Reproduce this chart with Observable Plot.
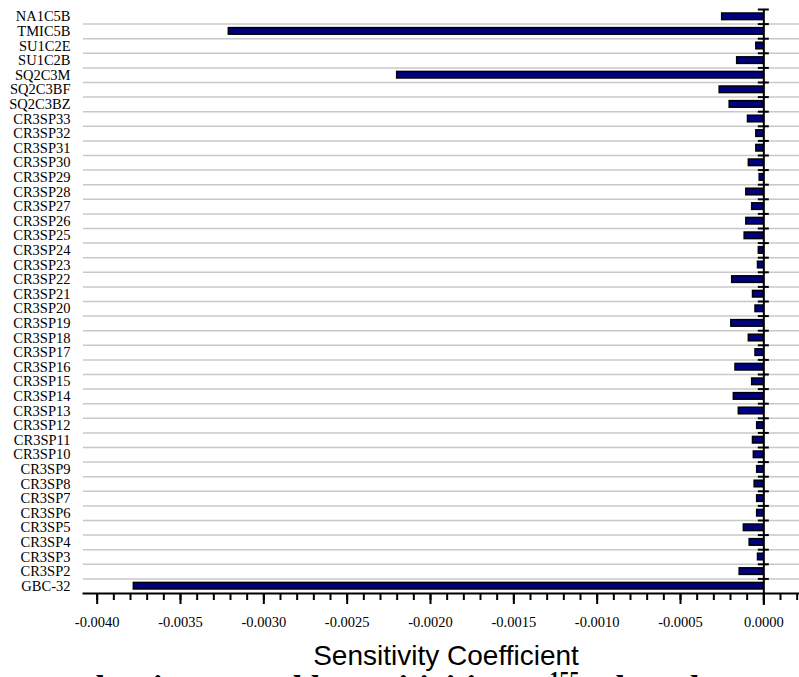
<!DOCTYPE html>
<html>
<head>
<meta charset="utf-8">
<script src="https://cdn.jsdelivr.net/npm/d3@7"></script>
<script src="https://cdn.jsdelivr.net/npm/@observablehq/plot@0.6"></script>
<style>
  html, body { margin: 0; padding: 0; background: white; overflow: hidden; width: 799px; height: 677px; }
  #wrap { position: relative; width: 799px; height: 677px; overflow: hidden; }
  #chart { position: absolute; left: 0; top: 0; }
  #xtitle { position: absolute; top: 642px; left: 446px; transform: translateX(-50%);
            font-family: "Liberation Sans", Arial, sans-serif; font-size: 28px; line-height: 28px; white-space: nowrap; color: black; }
  #caption { position: absolute; top: 662px; left: 96px; font-family: "Liberation Serif", "Times New Roman", serif;
             font-weight: bold; font-size: 34px; line-height: 34px; white-space: nowrap; color: black; }
  #caption sup { font-size: 20px; vertical-align: 13px; }
</style>
</head>
<body>
<div id="wrap">
  <div id="chart"></div>
  <div id="xtitle">Sensitivity Coefficient</div>
  <div id="caption">ber integrated k sensitivities to <sup>155</sup>Gd total</div>
</div>
<script>
const categories = [
  "NA1C5B","TMIC5B","SU1C2E","SU1C2B","SQ2C3M","SQ2C3BF","SQ2C3BZ",
  "CR3SP33","CR3SP32","CR3SP31","CR3SP30","CR3SP29","CR3SP28","CR3SP27","CR3SP26",
  "CR3SP25","CR3SP24","CR3SP23","CR3SP22","CR3SP21","CR3SP20","CR3SP19","CR3SP18",
  "CR3SP17","CR3SP16","CR3SP15","CR3SP14","CR3SP13","CR3SP12","CR3SP11","CR3SP10",
  "CR3SP9","CR3SP8","CR3SP7","CR3SP6","CR3SP5","CR3SP4","CR3SP3","CR3SP2","GBC-32"
];
const values = [
  -0.00025, -0.00321, -0.000045, -0.00016, -0.0022, -0.000265, -0.000205,
  -0.000095, -0.000045, -0.000045, -0.00009, -0.000025, -0.000105, -0.00007, -0.000105,
  -0.000115, -0.00003, -0.000035, -0.00019, -0.000065, -0.00005, -0.000195, -0.00009,
  -0.00005, -0.00017, -0.00007, -0.00018, -0.00015, -0.00004, -0.000065, -0.00006,
  -0.00004, -0.000055, -0.00004, -0.00004, -0.00012, -0.000085, -0.000035, -0.000145, -0.00378
];
const majorTicks = [-0.004, -0.0035, -0.003, -0.0025, -0.002, -0.0015, -0.001, -0.0005, 0];
const minorTicks = d3.range(-40, 3).map(i => i / 10000);

const data = categories.map((name, i) => ({name, value: values[i]}));

const W = 799, H = 635, mT = 9, mB = 42, mL = 83, mR = 0;
const step = (H - mT - mB) / categories.length;

const chart = Plot.plot({
  width: W, height: H,
  marginLeft: mL, marginRight: mR, marginTop: mT, marginBottom: mB,
  x: {domain: [-0.004082, 0.000214], label: null},
  y: {domain: categories, paddingInner: 0.55, paddingOuter: 0.275, round: false, label: null},
  style: {fontFamily: "'Liberation Serif', 'Times New Roman', serif", fontSize: "14px", color: "black", background: "white", overflow: "visible"},
  marks: [
    Plot.ruleY(categories.slice(1), {y: d => d, dy: -step / 2, stroke: "#c8c8c8", strokeWidth: 1.5}),
    Plot.barX(data, {x: "value", y: "name", fill: "#000080", stroke: "black", strokeWidth: 1.5}),
    Plot.ruleY(categories, {y: d => d, x1: -0.000033, x2: 0.000033, dy: -step / 2, stroke: "black", strokeWidth: 2}),
    Plot.ruleX([0], {stroke: "black", strokeWidth: 2, insetBottom: -12}),
    Plot.axisY({tickSize: 0, tickPadding: 13, fontSize: 14.5}),
    Plot.axisX({ticks: minorTicks, tickSize: 7, tickFormat: () => "", strokeWidth: 2}),
    Plot.axisX({ticks: majorTicks, tickSize: 11, tickPadding: 12, tickFormat: d => d.toFixed(4), strokeWidth: 2, fontSize: 14.5}),
    Plot.frame({anchor: "bottom", stroke: "black", strokeWidth: 2})
  ]
});
document.getElementById("chart").appendChild(chart);
</script>
</body>
</html>
